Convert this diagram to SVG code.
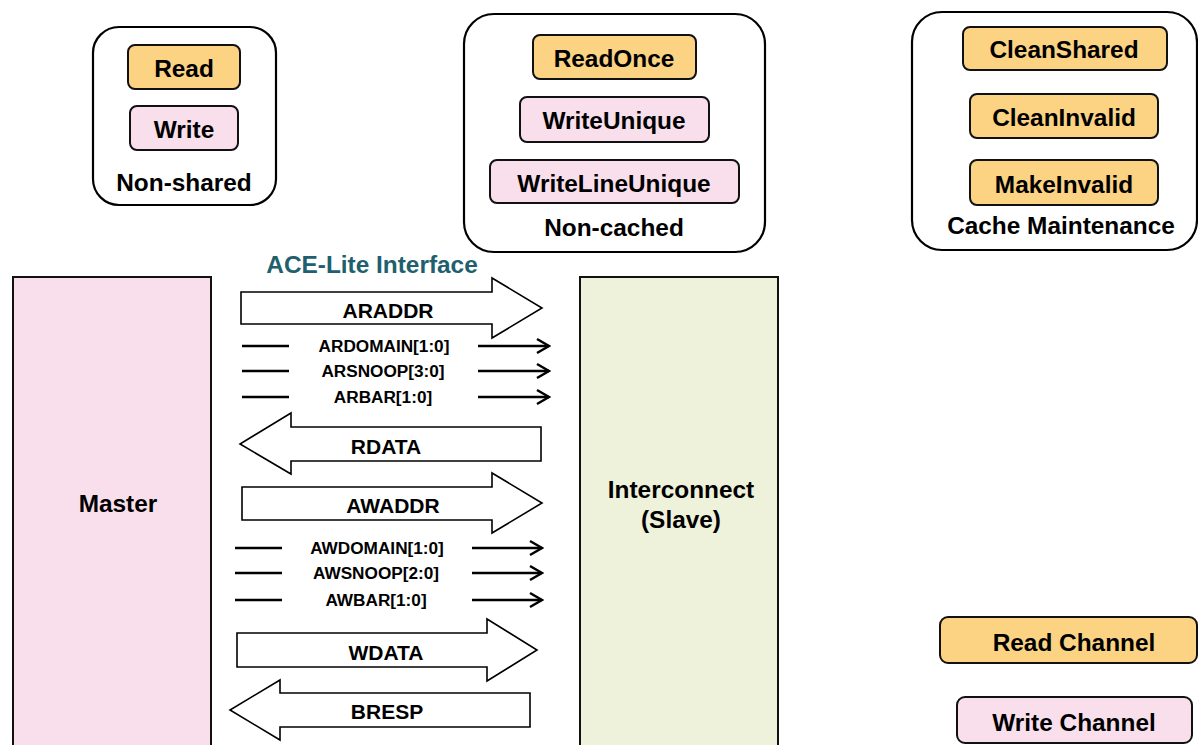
<svg xmlns="http://www.w3.org/2000/svg" width="1198" height="745" viewBox="0 0 1198 745">
<defs>
<style>
text{font-family:"Liberation Sans",Arial,Helvetica,sans-serif;font-weight:bold;fill:#000;text-anchor:middle;dominant-baseline:central}
.grp{fill:#fff;stroke:#000;stroke-width:2.2}
.rd{fill:#fcd283;stroke:#111;stroke-width:2}
.wr{fill:#f9dfeb;stroke:#111;stroke-width:2}
.t24{font-size:24.4px}
.big{fill:#fff;stroke:#000;stroke-width:1.6}
.bl{font-size:21px}
.sl{font-size:17.2px}
.sig{stroke:#000;stroke-width:2.5;fill:none}
</style>
<marker id="ah" markerUnits="userSpaceOnUse" markerWidth="16" markerHeight="18" viewBox="0 0 16 18" refX="14" refY="9" orient="auto">
<path d="M2,2 L14,9 L2,16" fill="none" stroke="#000" stroke-width="2.5"/>
</marker>
</defs>
<rect width="1198" height="745" fill="#fff"/>

<g id="non-shared">
<rect class="grp" x="93" y="27" width="183" height="178" rx="26"/>
<text class="t24" x="184" y="182">Non-shared</text>
</g>
<g id="read"><rect class="rd" x="128" y="45" width="112" height="44" rx="7"/><text class="t24" x="184" y="68">Read</text></g>
<g id="write"><rect class="wr" x="130" y="106" width="108" height="44" rx="7"/><text class="t24" x="184" y="129">Write</text></g>

<g id="non-cached">
<rect class="grp" x="464" y="14" width="301" height="238" rx="30"/>
<text class="t24" x="614" y="227">Non-cached</text>
</g>
<g id="readonce"><rect class="rd" x="533" y="35" width="163" height="44" rx="7"/><text class="t24" x="614" y="58">ReadOnce</text></g>
<g id="writeunique"><rect class="wr" x="520" y="97" width="189" height="45" rx="7"/><text class="t24" x="614" y="120">WriteUnique</text></g>
<g id="writelineunique"><rect class="wr" x="490" y="160" width="249" height="43" rx="7"/><text class="t24" x="614" y="183">WriteLineUnique</text></g>

<g id="cache-maintenance">
<rect class="grp" x="912" y="12" width="285" height="238" rx="30"/>
<text class="t24" x="1061" y="225">Cache Maintenance</text>
</g>
<g id="cleanshared"><rect class="rd" x="963" y="27" width="204" height="43" rx="7"/><text class="t24" x="1064" y="49">CleanShared</text></g>
<g id="cleaninvalid"><rect class="rd" x="970" y="94" width="188" height="44" rx="7"/><text class="t24" x="1064" y="117">CleanInvalid</text></g>
<g id="makeinvalid"><rect class="rd" x="970" y="160" width="188" height="45" rx="7"/><text class="t24" x="1064" y="184">MakeInvalid</text></g>

<g id="master"><rect class="wr" x="13" y="277" width="198" height="480" rx="0"/><text class="t24" x="118" y="503">Master</text></g>
<g id="interconnect"><rect x="580" y="277" width="198" height="480" fill="#eff2db" stroke="#111" stroke-width="2"/>
<text class="t24" x="681" y="489">Interconnect</text><text class="t24" x="681" y="519">(Slave)</text></g>

<text x="372" y="264" style="font-size:24.4px;fill:#215f6e">ACE-Lite Interface</text>

<g id="connectors">
<polygon class="big" points="241,292 492,292 492,278 542,308 492,338 492,324 241,324"/>
<polygon class="big" points="541,427 291,427 291,413 240,444 291,474 291,461 541,461"/>
<polygon class="big" points="242,487 492,487 492,473 542,503 492,533 492,520 242,520"/>
<polygon class="big" points="237,633 487,633 487,619 537,650 487,681 487,667 237,667"/>
<polygon class="big" points="530,693 280,693 280,680 230,710 280,740 280,727 530,727"/>

<line class="sig" x1="242" y1="346" x2="289" y2="346"/><line class="sig" x1="478" y1="346" x2="549" y2="346" marker-end="url(#ah)"/>
<line class="sig" x1="242" y1="371" x2="289" y2="371"/><line class="sig" x1="478" y1="371" x2="549" y2="371" marker-end="url(#ah)"/>
<line class="sig" x1="242" y1="397" x2="289" y2="397"/><line class="sig" x1="478" y1="397" x2="549" y2="397" marker-end="url(#ah)"/>
<line class="sig" x1="235" y1="548" x2="282" y2="548"/><line class="sig" x1="472" y1="548" x2="542" y2="548" marker-end="url(#ah)"/>
<line class="sig" x1="235" y1="573" x2="282" y2="573"/><line class="sig" x1="472" y1="573" x2="542" y2="573" marker-end="url(#ah)"/>
<line class="sig" x1="235" y1="600" x2="282" y2="600"/><line class="sig" x1="472" y1="600" x2="542" y2="600" marker-end="url(#ah)"/>

<text class="bl" x="388" y="310">ARADDR</text>
<text class="sl" x="384" y="346">ARDOMAIN[1:0]</text>
<text class="sl" x="383" y="371">ARSNOOP[3:0]</text>
<text class="sl" x="383" y="397">ARBAR[1:0]</text>
<text class="bl" x="386" y="446">RDATA</text>
<text class="bl" x="393" y="505">AWADDR</text>
<text class="sl" x="377" y="548">AWDOMAIN[1:0]</text>
<text class="sl" x="376" y="573">AWSNOOP[2:0]</text>
<text class="sl" x="376" y="600">AWBAR[1:0]</text>
<text class="bl" x="386" y="652">WDATA</text>
<text class="bl" x="387" y="711">BRESP</text>
</g>

<g id="read-channel"><rect class="rd" x="940" y="617" width="257" height="46" rx="8"/><text class="t24" x="1074" y="642">Read Channel</text></g>
<g id="write-channel"><rect class="wr" x="957" y="697" width="235" height="46" rx="8"/><text class="t24" x="1074" y="722">Write Channel</text></g>
</svg>
